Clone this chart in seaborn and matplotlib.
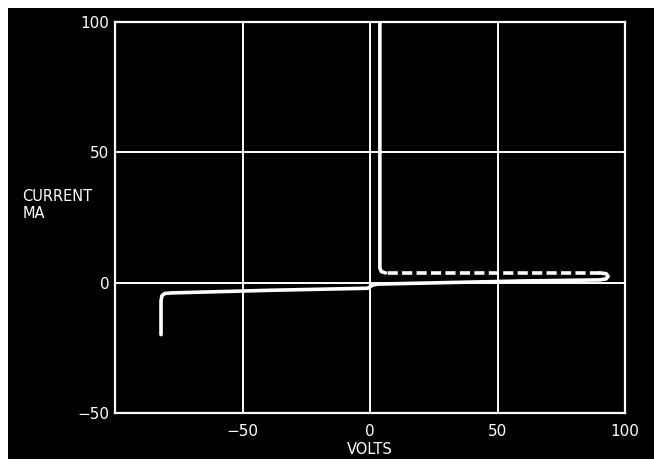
import numpy as np
import pandas as pd
import matplotlib
matplotlib.use("Agg")
import matplotlib.pyplot as plt
import seaborn as sns
from matplotlib.patches import Rectangle

# oscilloscope trace
# solid part: reverse breakdown at about -82 V, leakage, forward sweep out to ~92 V
solid_volts = [-82, -82, -81.6, -80.5, -78, -40, -1, 1, 3, 60, 90, 92.5, 93.3, 92.5, 90]
solid_ma = [-20, -7, -5, -4.2, -4, -3, -2.2, -1, -0.6, 0.6, 1, 1.4, 2.4, 3.4, 3.7]
# dashed return path and the vertical rise near +4 V
dash_volts = [90, 6]
dash_ma = [3.7, 3.7]
rise_volts = [6, 4.4, 3.8, 3.8]
rise_ma = [3.7, 4.2, 5.5, 100]

x_ticks = [-50, 0, 50, 100]
y_ticks = [-50, 0, 50, 100]
tick_text = ["\u221250", "0", "50", "100"]

sns.set_theme(style="dark")
plt.rcParams["font.family"] = ["DejaVu Sans"]

fig = plt.figure(figsize=(6.54, 4.68), dpi=100, facecolor="white")
# the black card of the photograph
fig.patches.append(Rectangle((0.012, 0.02), 0.988, 0.963, transform=fig.transFigure,
                             facecolor="black", edgecolor="none", zorder=-5))
ax = fig.add_axes([0.176, 0.118, 0.780, 0.835])
ax.set_facecolor("black")

line_kw = dict(color="white", linewidth=2.6, sort=False, estimator=None, ax=ax)
sns.lineplot(x=solid_volts, y=solid_ma, **line_kw)
sns.lineplot(x=dash_volts, y=dash_ma, **line_kw)
ax.lines[-1].set_dashes((2.8, 1.2))
sns.lineplot(x=rise_volts, y=rise_ma, **line_kw)

ax.set_xlim(-100, 100)
ax.set_ylim(-50, 100)
ax.set_xticks(x_ticks)
ax.set_yticks(y_ticks)
ax.set_xticklabels(tick_text, color="white", fontsize=11)
ax.set_yticklabels(tick_text, color="white", fontsize=11)
ax.tick_params(axis="x", length=0, pad=8)
ax.tick_params(axis="y", length=0, pad=4)
ax.grid(True, color="white", linewidth=1.4)
for s in ax.spines.values():
    s.set_visible(True)
    s.set_color("white")
    s.set_linewidth(1.6)
ax.set_xlabel("")
ax.set_ylabel("")

fig.text(0.034, 0.562, "CURRENT\nMA", color="white", fontsize=10.5, ha="left", va="center",
         linespacing=1.1)
fig.text(0.566, 0.024, "VOLTS", color="white", fontsize=10.5, ha="center", va="bottom")

fig.savefig("out.png", dpi=100, facecolor=fig.get_facecolor())
